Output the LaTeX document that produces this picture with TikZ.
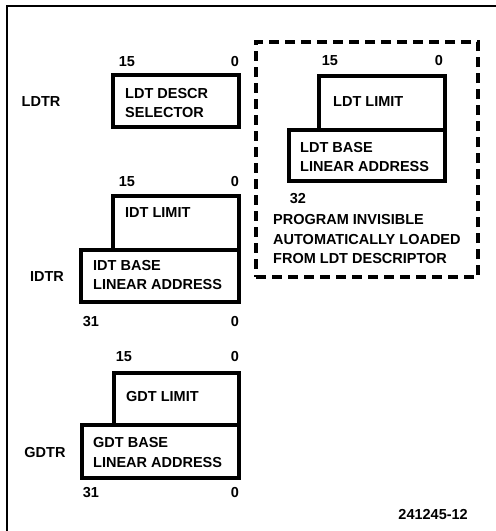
\documentclass[tikz,border=0pt]{standalone}
\usepackage{fontspec}
\setmainfont{Liberation Sans}
\begin{document}
\begin{tikzpicture}[x=1pt,y=-1pt,
  regbox/.style={draw, line width=3.8pt, rectangle, inner sep=0pt},
  txt/.style={font=\bfseries\fontsize{14.5}{19.5}\selectfont, inner sep=0pt, align=left},
  num/.style={font=\bfseries\fontsize{14.5}{16}\selectfont, inner sep=0pt},
  dashbox/.style={draw, line width=3.5pt, dash pattern=on 10pt off 6pt, inner sep=0pt}]
\useasboundingbox (0,0) rectangle (496,531);
\draw[line width=2pt] (7,531) -- (7,6) -- (496,6);

% LDTR
\node[regbox, minimum width=126pt, minimum height=52pt] (ldtrbox) at (176,101) {};
\node[txt, anchor=west] (ldtrtxt) at (125,103) {LDT DESCR\\SELECTOR};
\node[txt] (ldtrlab) at (41,102) {LDTR};
\node[num] (ldtr15) at (127,62) {15};
\node[num] (ldtr0) at (235,62) {0};

% IDTR
\node[regbox, minimum width=126pt, minimum height=54pt] (idtlim) at (176,223) {};
\node[regbox, minimum width=158pt, minimum height=52pt] (idtbase) at (160,276) {};
\node[txt, anchor=west] (idtlimtxt) at (125,213) {IDT LIMIT};
\node[txt, anchor=west] (idtbasetxt) at (93,275) {IDT BASE\\LINEAR ADDRESS};
\node[txt] (idtrlab) at (47,277) {IDTR};
\node[num] (idt15) at (127,182) {15};
\node[num] (idt0) at (235,182) {0};
\node[num] (idt31) at (91,322) {31};
\node[num] (idt0b) at (235,322) {0};

% GDTR
\node[regbox, minimum width=125pt, minimum height=52pt] (gdtlim) at (176.5,399) {};
\node[regbox, minimum width=157pt, minimum height=53pt] (gdtbase) at (160.5,451.5) {};
\node[txt, anchor=west] (gdtlimtxt) at (126,397) {GDT LIMIT};
\node[txt, anchor=west] (gdtbasetxt) at (93,452.5) {GDT BASE\\LINEAR ADDRESS};
\node[txt] (gdtrlab) at (45,453) {GDTR};
\node[num] (gdt15) at (124,357) {15};
\node[num] (gdt0) at (235,357) {0};
\node[num] (gdt31) at (91,493) {31};
\node[num] (gdt0b) at (235,493) {0};

% LDT cache (program invisible)
\node[dashbox, minimum width=222pt, minimum height=235pt] (cache) at (367,159.5) {};
\node[regbox, minimum width=126pt, minimum height=54pt] (ldtlim) at (382,103) {};
\node[regbox, minimum width=156pt, minimum height=51pt] (ldtbase) at (367,155.5) {};
\node[txt, anchor=west] (ldtlimtxt) at (333,102) {LDT LIMIT};
\node[txt, anchor=west] (ldtbasetxt) at (300,157) {LDT BASE\\LINEAR ADDRESS};
\node[num] (ldt15) at (330,61) {15};
\node[num] (ldt0) at (439,61) {0};
\node[num] (ldt32) at (298,199) {32};
\node[txt, anchor=west] (note) at (273,239.5) {PROGRAM INVISIBLE\\AUTOMATICALLY LOADED\\FROM LDT DESCRIPTOR};

\node[num, anchor=east] (fig) at (468,515) {241245-12};
\end{tikzpicture}
\end{document}
